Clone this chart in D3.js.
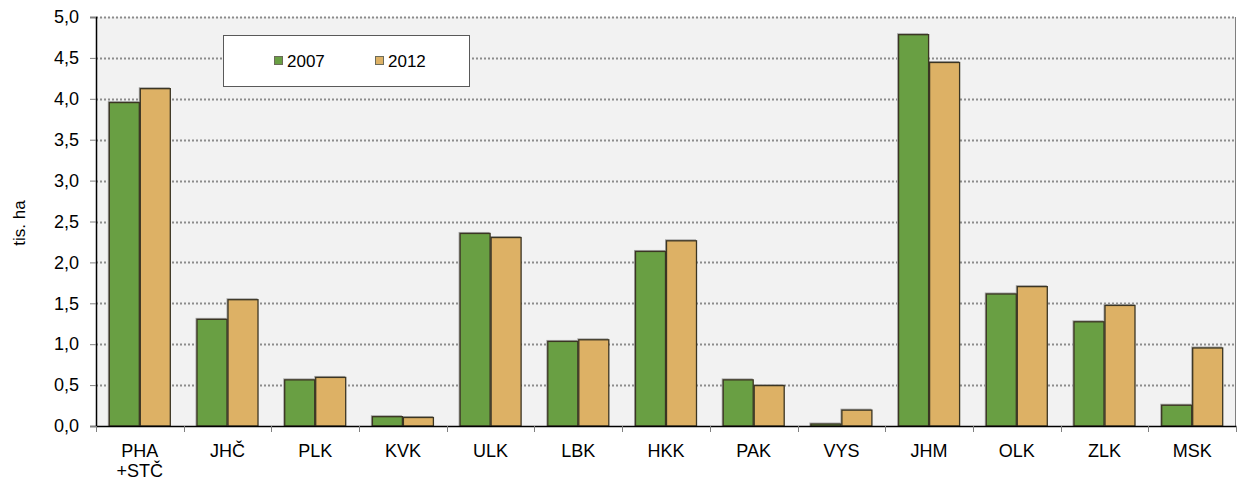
<!DOCTYPE html>
<html>
<head>
<meta charset="utf-8">
<script src="https://cdn.jsdelivr.net/npm/d3@7"></script>
<style>
  body { margin: 0; background: #fff; }
  text { font-family: "Liberation Sans", Arial, sans-serif; fill: #000; }
</style>
</head>
<body>
<div id="chart"></div>
<script>
// regions (two-line labels split on \n)
var categories = ["PHA\n+STČ", "JHČ", "PLK", "KVK", "ULK", "LBK", "HKK", "PAK", "VYS", "JHM", "OLK", "ZLK", "MSK"];
var seriesNames = ["2007", "2012"];
var values2007 = [3.96, 1.31, 0.57, 0.12, 2.36, 1.04, 2.14, 0.57, 0.03, 4.79, 1.62, 1.28, 0.26];
var values2012 = [4.13, 1.55, 0.60, 0.11, 2.31, 1.06, 2.27, 0.50, 0.20, 4.45, 1.71, 1.48, 0.96];
var yTicks = [0, 0.5, 1, 1.5, 2, 2.5, 3, 3.5, 4, 4.5, 5];
var yLabel = "tis. ha";

var colors = ["#699f43", "#ddb165"];

var W = 1238, H = 481;
var margin = { top: 17, right: 2, bottom: 55, left: 96 },
    width = W - margin.left - margin.right,
    height = H - margin.top - margin.bottom;

var svg = d3.select("#chart")
    .append("svg")
    .attr("width", W)
    .attr("height", H)
    .append("g")
    .attr("transform", "translate(" + margin.left + "," + margin.top + ")");

// plot background
svg.append("rect")
    .attr("width", width)
    .attr("height", height)
    .attr("fill", "#f2f2f2");

var x = d3.scaleBand()
    .domain(categories)
    .range([0, width])
    .paddingInner(0.293)
    .paddingOuter(0.146);

var x1 = d3.scaleBand()
    .domain(seriesNames)
    .range([0, x.bandwidth()]);

var y = d3.scaleLinear()
    .domain([0, 5])
    .range([height, 0]);

// dotted gridlines
svg.append("g")
    .selectAll("line")
    .data(yTicks.filter(function (d) { return d > 0; }))
    .enter()
    .append("line")
    .attr("x1", 0)
    .attr("x2", width)
    .attr("y1", function (d) { return Math.round(y(d)) + 0.5; })
    .attr("y2", function (d) { return Math.round(y(d)) + 0.5; })
    .attr("stroke", "#8c8c8c")
    .attr("stroke-width", 2)
    .attr("stroke-dasharray", "2,2");

// right border
svg.append("line")
    .attr("x1", width - 0.5).attr("x2", width - 0.5)
    .attr("y1", 0).attr("y2", height)
    .attr("stroke", "#7f7f7f");

// bars
var rows = categories.map(function (c, i) {
    return { cat: c, vals: [values2007[i], values2012[i]] };
});

var groups = svg.selectAll(".grp")
    .data(rows)
    .enter()
    .append("g")
    .attr("transform", function (d) { return "translate(" + x(d.cat) + ",0)"; });

// light shadow
groups.selectAll(".shadow")
    .data(function (d) { return d.vals; })
    .enter()
    .append("rect")
    .attr("x", function (d, i) { return x1(seriesNames[i]) - 1; })
    .attr("y", function (d) { return y(d) - 1; })
    .attr("width", x1.bandwidth())
    .attr("height", function (d) { return height - y(d) + 1; })
    .attr("fill", "#a6a6a6");

groups.selectAll(".bar")
    .data(function (d) { return d.vals; })
    .enter()
    .append("rect")
    .attr("x", function (d, i) { return x1(seriesNames[i]) + 0.5; })
    .attr("y", function (d) { return y(d) + 0.5; })
    .attr("width", x1.bandwidth() - 1)
    .attr("height", function (d) { return Math.max(0, height - y(d) - 0.5); })
    .attr("fill", function (d, i) { return colors[i]; })
    .attr("stroke", "#3b3523")
    .attr("stroke-width", 1.3);

// y axis
var yAxis = svg.append("g")
    .call(d3.axisLeft(y).tickValues(yTicks).tickSize(6).tickPadding(11)
        .tickFormat(function (d) { return d3.format(".1f")(d).replace(".", ","); }));
yAxis.select(".domain").attr("stroke", "#000").attr("stroke-width", 1.5);
yAxis.selectAll(".tick line").attr("stroke", "#7f7f7f");
yAxis.selectAll("text").style("font-size", "18px").attr("fill", "#000");

// x axis
var xAxis = svg.append("g")
    .attr("transform", "translate(0," + height + ")")
    .call(d3.axisBottom(x).tickSize(0).tickFormat(""));
xAxis.select(".domain").attr("stroke", "#000").attr("stroke-width", 1.5);

// category separators
var step = x.step();
svg.append("g")
    .selectAll("line")
    .data(d3.range(categories.length + 1))
    .enter()
    .append("line")
    .attr("x1", function (i) { return Math.round(i * step) + 0.5; })
    .attr("x2", function (i) { return Math.round(i * step) + 0.5; })
    .attr("y1", height)
    .attr("y2", height + 6)
    .attr("stroke", "#7f7f7f");

// category labels
svg.append("g")
    .selectAll("text")
    .data(categories)
    .enter()
    .append("text")
    .attr("text-anchor", "middle")
    .style("font-size", "18px")
    .attr("transform", function (d) { return "translate(" + (x(d) + x.bandwidth() / 2) + "," + (height + 31) + ")"; })
    .each(function (d) {
        var t = d3.select(this);
        d.split("\n").forEach(function (line, k) {
            t.append("tspan").attr("x", 0).attr("dy", k === 0 ? 0 : 20).text(line);
        });
    });

// y label
svg.append("text")
    .attr("transform", "rotate(-90)")
    .attr("x", -(223 - margin.top))
    .attr("y", -71)
    .attr("text-anchor", "middle")
    .style("font-size", "17px")
    .text(yLabel);

// legend
var lg = svg.append("g")
    .attr("transform", "translate(" + (223 - margin.left) + "," + (35 - margin.top) + ")");
lg.append("rect")
    .attr("x", 0.5).attr("y", 0.5)
    .attr("width", 246).attr("height", 51)
    .attr("fill", "#fff")
    .attr("stroke", "#595959");
var legendX = [51, 152];
seriesNames.forEach(function (s, i) {
    lg.append("rect")
        .attr("x", legendX[i] + 0.5).attr("y", 21.5)
        .attr("width", 8).attr("height", 8)
        .attr("fill", colors[i])
        .attr("stroke", "#6b6b5a");
    lg.append("text")
        .attr("x", legendX[i] + 13)
        .attr("y", 32)
        .style("font-size", "17px")
        .text(s);
});
</script>
</body>
</html>
